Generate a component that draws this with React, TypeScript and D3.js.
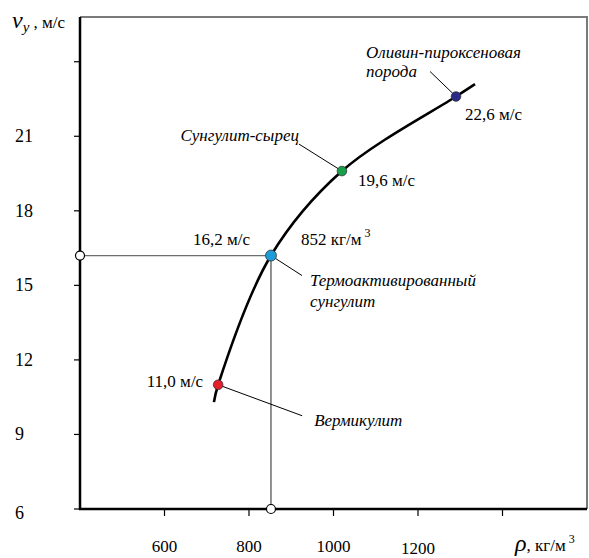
import React from "react"
import * as d3 from "d3"

// curve v_y(ρ)
const curveRho = [717, 727, 852, 1020, 1290, 1335]
const curveV = [10.3, 11.0, 16.2, 19.6, 22.6, 23.1]

// marked materials
const pointNames = ["Вермикулит", "Термоактивированный сунгулит", "Сунгулит-сырец", "Оливин-пироксеновая порода"]
const pointRho = [727, 852, 1020, 1290]
const pointV = [11.0, 16.2, 19.6, 22.6]
const pointColors = ["#e3202b", "#1c9bd8", "#16a04c", "#2b2a88"]

const yTicks = [6, 9, 12, 15, 18, 21, 24]
const yTickLabels = ["6", "9", "12", "15", "18", "21", ""]
const xTicks = [600, 800, 1000, 1200, 1400]
const xTickLabels = ["600", "800", "1000", "1200", ""]

const W = 589, H = 558
const F = "Liberation Serif"

const App = () => {
    const x = d3.scaleLinear().domain([400, 1600]).range([80, 587])
    const y = d3.scaleLinear().domain([6, 25.8]).range([509, 17])

    const curve = d3.line<number>()
        .x((d, i) => x(curveRho[i]))
        .y(d => y(d))
        .curve(d3.curveCatmullRom)(curveV)

    const px = pointRho.map(d => x(d))
    const py = pointV.map(d => y(d))
    const [rx, ry] = [px[0], py[0]]
    const [tx, ty] = [px[1], py[1]]
    const [gx, gy] = [px[2], py[2]]
    const [bx, by] = [px[3], py[3]]

    const valLabel = (v: number) => v.toFixed(1).replace(".", ",") + " м/с"

    return (
        <svg width={W} height={H} style={{position: "absolute", left: 0, top: 0}}>
            <style>{`text, tspan { font-family: "Liberation Serif", "Times New Roman", serif !important; }`}</style>
            <rect width={W} height={H} fill="#fff" />

            {/* top/right frame */}
            <path d={`M${x(400)},${y(25.8)}H${x(1600)}V${y(6)}`} fill="none" stroke="#7a7a7a" strokeWidth={2} />

            {/* guide lines for the thermo-activated point */}
            <line x1={x(400)} y1={ty} x2={tx} y2={ty} stroke="#6e6e6e" strokeWidth={1.3} />
            <line x1={tx} y1={ty} x2={tx} y2={y(6)} stroke="#222" strokeWidth={1} />

            {/* axes */}
            <line x1={x(400)} y1={y(25.8)} x2={x(400)} y2={y(6) + 1} stroke="#000" strokeWidth={2.5} />
            <line x1={x(400) - 1} y1={y(6)} x2={x(1600)} y2={y(6)} stroke="#000" strokeWidth={2.5} />

            {yTicks.map((t, i) => (
                <g key={"y" + t}>
                    <line x1={x(400) - 6} x2={x(400)} y1={y(t)} y2={y(t)} stroke="#000" strokeWidth={1.2} />
                    <text x={15} y={y(t) + 6 + (t === 6 ? 4 : 0)} fontSize={18} fontFamily={F}>{yTickLabels[i]}</text>
                </g>
            ))}
            {xTicks.map((t, i) => (
                <g key={"x" + t}>
                    <line x1={x(t)} x2={x(t)} y1={y(6)} y2={y(6) + 7} stroke="#000" strokeWidth={1.2} />
                    <text x={x(t)} y={t === 1200 ? 554 : 552} fontSize={17} textAnchor="middle" fontFamily={F}>{xTickLabels[i]}</text>
                </g>
            ))}

            {/* axis titles */}
            <text x={12} y={28} fontSize={17} fontFamily={F}>
                <tspan fontSize={24} fontStyle="italic">v</tspan>
                <tspan fontSize={15} dy={4} fontStyle="italic">y</tspan>
                <tspan dy={-4}> , м/с</tspan>
            </text>
            <text x={515} y={551} fontSize={17} fontFamily={F}>
                <tspan fontSize={24} fontStyle="italic">ρ</tspan>
                <tspan>, кг/м</tspan>
                <tspan fontSize={12} dy={-8}> 3</tspan>
            </text>

            {/* curve */}
            <path d={curve || ""} fill="none" stroke="#000" strokeWidth={2.6} />

            {/* leader lines */}
            <line x1={bx} y1={by} x2={bx - 26} y2={by - 25} stroke="#000" strokeWidth={1} />
            <line x1={gx} y1={gy} x2={gx - 43} y2={gy - 27} stroke="#000" strokeWidth={1} />
            <line x1={tx} y1={ty} x2={tx + 31} y2={ty + 20} stroke="#000" strokeWidth={1} />
            <line x1={rx} y1={ry} x2={rx + 84} y2={ry + 31} stroke="#000" strokeWidth={1} />

            {/* guide end markers */}
            <circle cx={x(400)} cy={ty} r={4.5} fill="#fff" stroke="#000" strokeWidth={1.2} />
            <circle cx={tx} cy={y(6)} r={4.5} fill="#fff" stroke="#000" strokeWidth={1.2} />

            {/* points */}
            {pointRho.map((d, i) => (
                <circle key={pointNames[i]} cx={px[i]} cy={py[i]} r={i === 1 ? 5.5 : 4.8}
                        fill={pointColors[i]} stroke="#333" strokeWidth={0.8} />
            ))}

            {/* value labels */}
            <text x={bx + 9} y={by + 23} fontSize={17} fontFamily={F}>{valLabel(pointV[3])}</text>
            <text x={gx + 16} y={gy + 15} fontSize={17} fontFamily={F}>{valLabel(pointV[2])}</text>
            <text x={tx - 21} y={ty - 11} fontSize={17} textAnchor="end" fontFamily={F}>{valLabel(pointV[1])}</text>
            <text x={tx + 30} y={ty - 11} fontSize={17} fontFamily={F}>
                {pointRho[1]} кг/м<tspan fontSize={12} dy={-8}> 3</tspan>
            </text>
            <text x={rx - 15} y={ry + 2} fontSize={17} textAnchor="end" fontFamily={F}>{valLabel(pointV[0])}</text>

            {/* material names */}
            <text x={bx - 90} y={by - 39} fontSize={17} fontStyle="italic" fontFamily={F}>Оливин-пироксеновая</text>
            <text x={bx - 90} y={by - 20} fontSize={17} fontStyle="italic" fontFamily={F}>порода</text>
            <text x={gx - 43} y={gy - 30} fontSize={17} textAnchor="end" fontStyle="italic" fontFamily={F}>{pointNames[2]}</text>
            <text x={tx + 39} y={ty + 30} fontSize={17} fontStyle="italic" fontFamily={F}>Термоактивированный</text>
            <text x={tx + 39} y={ty + 51} fontSize={17} fontStyle="italic" fontFamily={F}>сунгулит</text>
            <text x={rx + 96} y={ry + 41} fontSize={17} fontStyle="italic" fontFamily={F}>{pointNames[0]}</text>
        </svg>
    )
}

export default App
